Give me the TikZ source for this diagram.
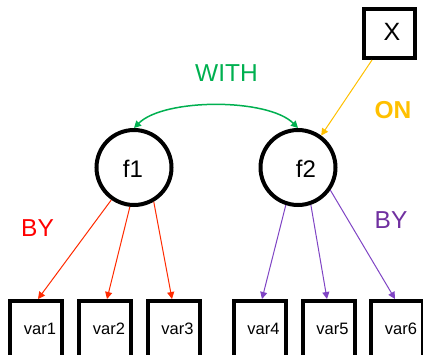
\documentclass[tikz,border=0pt]{standalone}
\usepackage{fontspec}
\setmainfont{Liberation Sans}
\usetikzlibrary{arrows.meta,calc}
\definecolor{byred}{HTML}{FF0000}
\definecolor{redline}{HTML}{FF2A00}
\definecolor{bypurple}{HTML}{7030A0}
\definecolor{purpleline}{HTML}{7F44C4}
\definecolor{withgreen}{HTML}{00B050}
\definecolor{ongold}{HTML}{FFC000}

\begin{document}
\begin{tikzpicture}[x=1pt,y=-1pt,
  factor/.style={circle,draw,line width=4pt,minimum size=75pt,inner sep=0pt},
  bigtext/.style={inner sep=0pt,font=\fontsize{24}{24}\selectfont},
  varbox/.style={rectangle,draw,line width=4pt,minimum width=52pt,minimum height=60pt,inner sep=0pt},
  boxtext/.style={inner sep=0pt,font=\fontsize{16.5}{16.5}\selectfont,xshift=4pt,yshift=2pt},
  biglabel/.style={inner sep=0pt,font=\fontsize{24.5}{24.5}\selectfont},
  link/.style={line width=1pt,-{Triangle[length=7pt,width=7pt]}},
]
\useasboundingbox (0,0) rectangle (423,354);

% observed variables
\node[varbox,label={[boxtext]center:var1}] (v1) at (36,331) {};
\node[varbox,label={[boxtext]center:var2}] (v2) at (105,331) {};
\node[varbox,label={[boxtext]center:var3}] (v3) at (173.5,331) {};
\node[varbox,label={[boxtext]center:var4}] (v4) at (259.5,331) {};
\node[varbox,label={[boxtext]center:var5}] (v5) at (328.5,331) {};
\node[varbox,label={[boxtext]center:var6}] (v6) at (397,331) {};

% covariate box
\node[varbox,minimum width=51pt,minimum height=49pt,
      label={[inner sep=0pt,font=\fontsize{25}{25}\selectfont,xshift=2.5pt,yshift=1.5pt]center:X}] (X) at (389.5,33.5) {};

% latent factors
\node[factor,label={[bigtext,xshift=-1pt,yshift=-1pt]center:f1}] (f1) at (134,167.5) {};
\node[factor,label={[bigtext,xshift=8pt,yshift=-1pt]center:f2}] (f2) at (298,167.5) {};

% loadings
\draw[link,redline] (f1.-125) -- ([xshift=2pt]v1.north);
\draw[link,redline] (f1.-96) -- ([xshift=2pt]v2.north);
\draw[link,redline] (f1.-60) -- ([xshift=-1.5pt]v3.north);
\draw[link,purpleline] (f2.-108) -- ([xshift=2.5pt]v4.north);
\draw[link,purpleline] (f2.-71) -- ([xshift=-1.5pt]v5.north);
\draw[link,purpleline] (f2.-35) -- ([xshift=-2pt]v6.north);

% regression of f2 on X
\draw[link,ongold] ([xshift=-17.5pt]X.south) -- (f2.54);

% factor covariance
\draw[line width=1.5pt,withgreen,{Triangle[length=7pt,width=7pt]}-{Triangle[length=7pt,width=7pt]}]
  (f1.north) .. controls +(30,-30) and +(-30,-30) .. (f2.north);

% keyword labels
\node[biglabel,withgreen] (with) at (226.5,73) {WITH};
\node[inner sep=0pt,font=\fontsize{24.5}{24.5}\selectfont\bfseries,ongold] (on) at (393,110) {ON};
\node[biglabel,byred] (byleft) at (37.5,228) {BY};
\node[biglabel,bypurple] (byright) at (391,220) {BY};
\end{tikzpicture}
\end{document}
